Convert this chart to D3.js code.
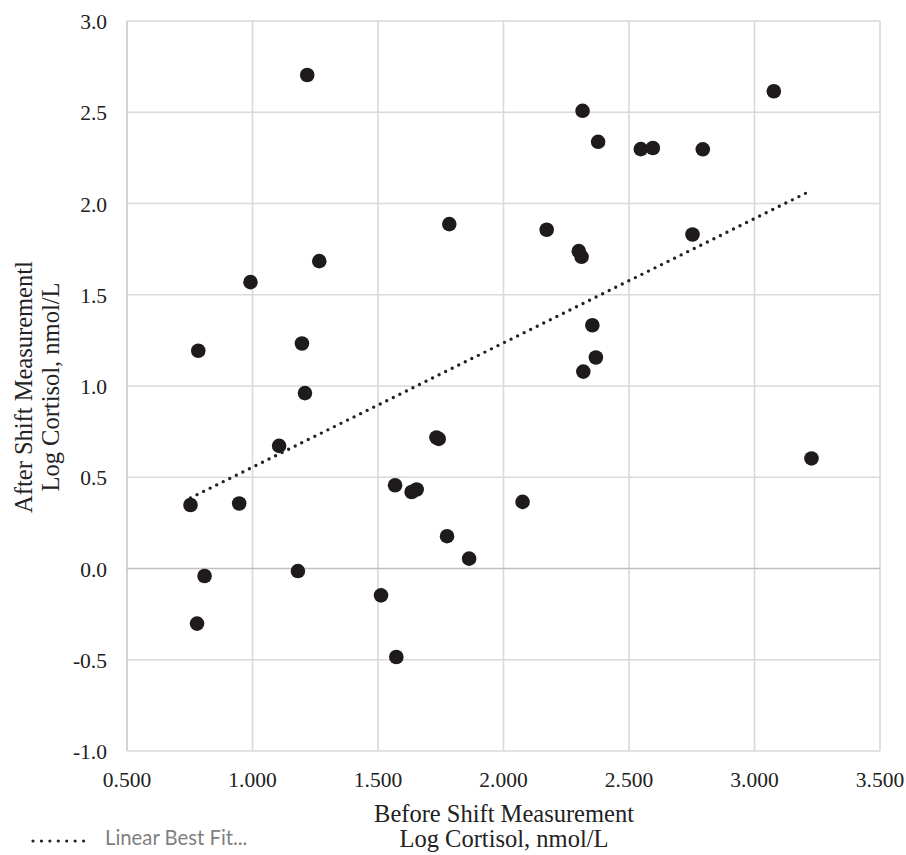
<!DOCTYPE html>
<html>
<head>
<meta charset="utf-8">
<script src="https://cdn.jsdelivr.net/npm/d3@7"></script>
<style>
  body { margin: 0; background: #fff; }
  text { font-family: "Liberation Serif", "Times New Roman", serif; fill: #222; }
</style>
</head>
<body>
<div id="chart"></div>
<script>
// Before shift log cortisol (x) vs after shift log cortisol (y)
const beforeShift = [1.218, 2.315, 3.077, 2.377, 2.547, 2.595, 2.794, 2.172, 2.300, 2.311,
  2.753, 2.354, 2.368, 2.318, 3.227, 0.784, 1.197, 1.209, 1.106, 1.733,
  1.742, 0.753, 0.947, 1.568, 1.634, 1.654, 2.076, 1.775, 1.863, 0.809,
  1.181, 1.512, 0.779, 1.573, 0.992, 1.266, 1.784];
const afterShift = [2.704, 2.508, 2.615, 2.338, 2.298, 2.304, 2.297, 1.856, 1.739, 1.708,
  1.830, 1.333, 1.156, 1.079, 0.603, 1.193, 1.233, 0.961, 0.672, 0.718,
  0.710, 0.348, 0.356, 0.456, 0.419, 0.433, 0.365, 0.177, 0.054, -0.041,
  -0.014, -0.147, -0.302, -0.485, 1.569, 1.684, 1.887];

// linear best fit end points (as drawn)
const trendX = [0.753, 3.227];
const trendY = [0.387, 2.072];

const xTicks = [0.5, 1.0, 1.5, 2.0, 2.5, 3.0, 3.5];
const yTicks = [-1.0, -0.5, 0.0, 0.5, 1.0, 1.5, 2.0, 2.5, 3.0];

const width = 906, height = 855;
const margin = {top: 21, right: 26, bottom: 104, left: 127};

const svg = d3.select("#chart").append("svg")
  .attr("width", width)
  .attr("height", height);

const x = d3.scaleLinear().domain([0.5, 3.5]).range([margin.left, width - margin.right]);
const y = d3.scaleLinear().domain([-1, 3]).range([height - margin.bottom, margin.top]);

// gridlines
svg.append("g")
  .selectAll("line.vgrid")
  .data(xTicks)
  .join("line")
    .attr("x1", d => x(d)).attr("x2", d => x(d))
    .attr("y1", y(3)).attr("y2", y(-1))
    .attr("stroke", d => d === 0.5 ? "#c8c8c8" : "#d9d9d9")
    .attr("stroke-width", 1.6);

svg.append("g")
  .selectAll("line.hgrid")
  .data(yTicks)
  .join("line")
    .attr("x1", x(0.5)).attr("x2", x(3.5))
    .attr("y1", d => y(d)).attr("y2", d => y(d))
    .attr("stroke", d => d === 0 ? "#bfbfbf" : "#d9d9d9")
    .attr("stroke-width", 1.6);

// tick labels (plain hyphen for negatives, like the original)
svg.append("g")
  .selectAll("text")
  .data(yTicks)
  .join("text")
    .attr("x", x(0.5) - 20)
    .attr("y", d => y(d) + 8)
    .attr("text-anchor", "end")
    .style("font-size", "21.5px")
    .text(d => d.toFixed(1));

svg.append("g")
  .selectAll("text")
  .data(xTicks)
  .join("text")
    .attr("x", d => x(d))
    .attr("y", y(-1) + 36)
    .attr("text-anchor", "middle")
    .style("font-size", "21.5px")
    .text(d => d.toFixed(3));

// trend line (dotted)
svg.append("line")
  .attr("x1", x(trendX[0])).attr("y1", y(trendY[0]))
  .attr("x2", x(trendX[1])).attr("y2", y(trendY[1]))
  .attr("stroke", "#222")
  .attr("stroke-width", 3.4)
  .attr("stroke-linecap", "round")
  .attr("stroke-dasharray", "0 7.3");

// points
svg.append("g")
  .selectAll("circle")
  .data(d3.range(beforeShift.length))
  .join("circle")
    .attr("cx", i => x(beforeShift[i]))
    .attr("cy", i => y(afterShift[i]))
    .attr("r", 7.3)
    .attr("fill", "#1f1b1c");

// axis titles
const xTitle = svg.append("text")
  .attr("text-anchor", "middle")
  .style("font-size", "24.5px");
xTitle.append("tspan").attr("x", 504).attr("y", 822).text("Before Shift Measurement");
xTitle.append("tspan").attr("x", 504).attr("y", 847).text("Log Cortisol, nmol/L");

const yTitle = svg.append("text")
  .attr("text-anchor", "middle")
  .attr("transform", "translate(0,387) rotate(-90)")
  .style("font-size", "24.5px");
yTitle.append("tspan").attr("x", 0).attr("y", 32).text("After Shift Measurementl");
yTitle.append("tspan").attr("x", 0).attr("y", 59).text("Log Cortisol, nmol/L");

// legend
const legend = svg.append("g");
legend.append("line")
  .attr("x1", 33).attr("x2", 92)
  .attr("y1", 841).attr("y2", 841)
  .attr("stroke", "#222")
  .attr("stroke-width", 3.2)
  .attr("stroke-linecap", "round")
  .attr("stroke-dasharray", "0 8.43");
legend.append("text")
  .attr("x", 105).attr("y", 845)
  .style("font-family", "Lato, 'Open Sans', sans-serif")
  .style("font-size", "20.3px")
  .style("fill", "#7f7f7f")
  .text("Linear Best Fit...");
</script>
</body>
</html>
